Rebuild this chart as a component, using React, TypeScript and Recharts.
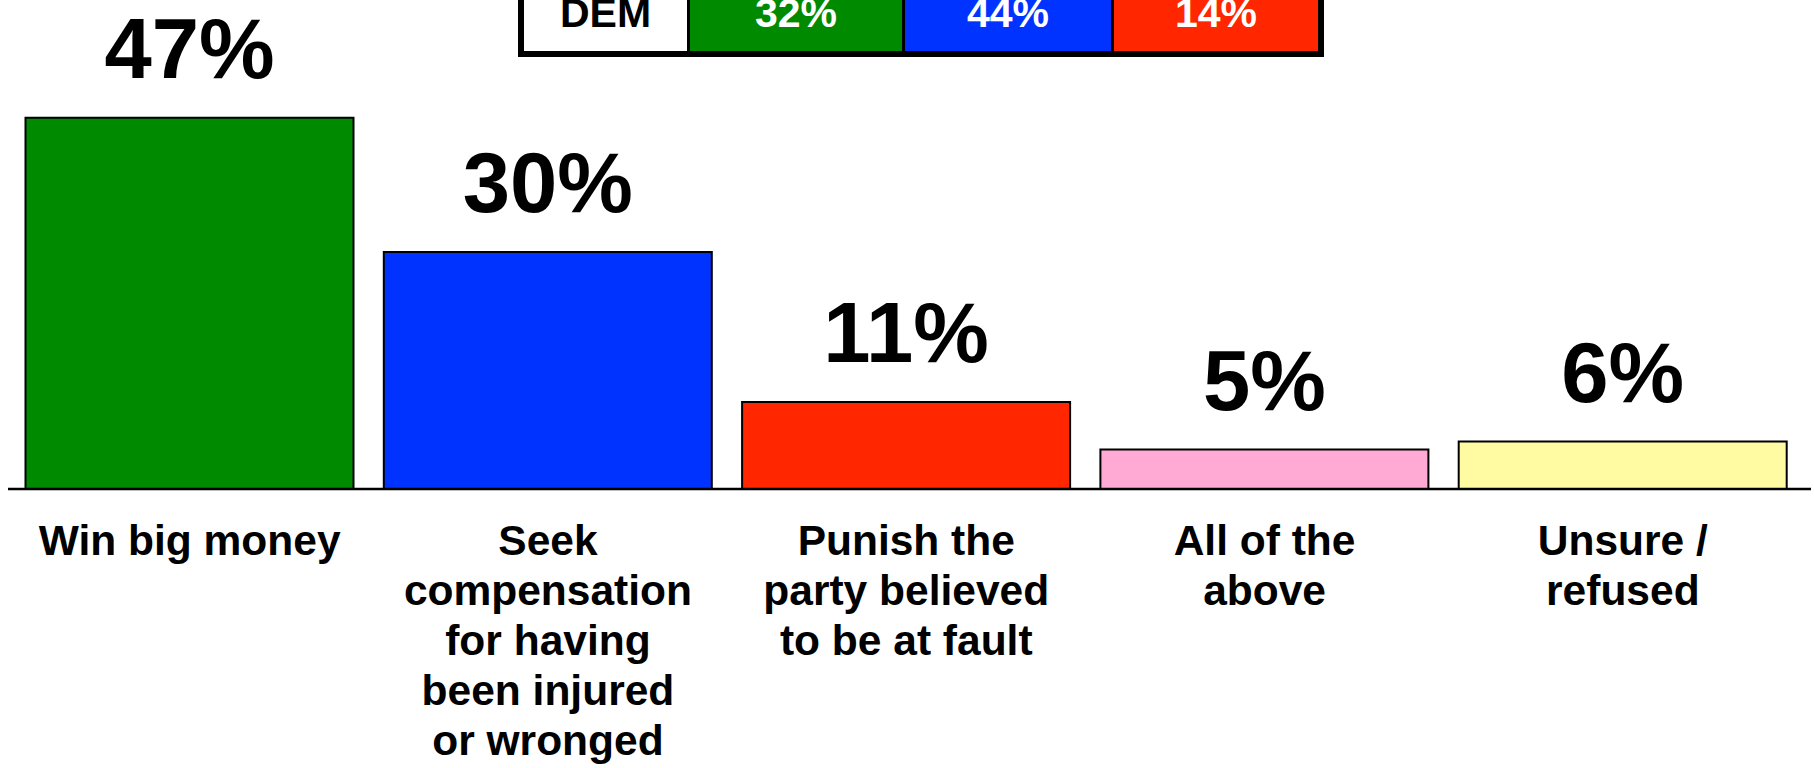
import { Bar, BarChart, Cell, LabelList, XAxis, YAxis } from "recharts";

const categories = [
  "Win big money",
  "Seek compensation for having been injured or wronged",
  "Punish the party believed to be at fault",
  "All of the above",
  "Unsure / refused",
];
const categoryLines = [
  ["Win big money"],
  ["Seek", "compensation", "for having", "been injured", "or wronged"],
  ["Punish the", "party believed", "to be at fault"],
  ["All of the", "above"],
  ["Unsure /", "refused"],
];
const values = [47, 30, 11, 5, 6];
const barColors = ["#008A00", "#0033FF", "#FF2600", "#FFAAD4", "#FFFBA3"];

const tableHeader = "DEM";
const tableValues = [32, 44, 14];
const tableColors = ["#008A00", "#0033FF", "#FF2600"];

const FONT = "'Liberation Sans', Arial, Helvetica, sans-serif";

const data = categories.map((name, i) => ({ name, value: values[i], idx: i }));

function CategoryTick(props: any) {
  const { x, y, payload } = props;
  const lines = categoryLines[payload.index] ?? [payload.value];
  return (
    <text
      x={x}
      y={y + 66}
      textAnchor="middle"
      fontFamily={FONT}
      fontWeight="bold"
      fontSize={42.5}
      fill="#000"
    >
      {lines.map((line, i) => (
        <tspan key={i} x={x} dy={i === 0 ? 0 : 50}>
          {line}
        </tspan>
      ))}
    </text>
  );
}

function ValueLabel(props: any) {
  const { x, y, width, value } = props;
  return (
    <text
      x={x + width / 2}
      y={y - 40}
      textAnchor="middle"
      fontFamily={FONT}
      fontWeight="bold"
      fontSize={85}
      fill="#000"
    >
      {value}%
    </text>
  );
}

// the DEM row of the table at the top (its upper part is cut off by the frame)
function TopTable() {
  const left = 518;
  const top = -40;
  const bottom = 57;
  const border = 6;
  const divider = 3;
  const cellWidths = [163, 212, 206, 204];
  const labels = [tableHeader, ...tableValues.map((v) => `${v}%`)];
  const fills = ["#FFFFFF", ...tableColors];
  const textColors = ["#000", "#FFF", "#FFF", "#FFF"];
  const innerW =
    cellWidths.reduce((a, b) => a + b, 0) + divider * (cellWidths.length - 1);
  let cx = left + border;
  return (
    <svg
      width={1814}
      height={768}
      style={{ position: "absolute", left: 0, top: 0, pointerEvents: "none" }}
    >
      <rect
        x={left}
        y={top}
        width={innerW + border * 2}
        height={bottom - top}
        fill="#000"
      />
      {cellWidths.map((w, i) => {
        const x0 = cx;
        cx += w + divider;
        return (
          <g key={i}>
            <rect x={x0} y={top + border} width={w} height={bottom - border - (top + border)} fill={fills[i]} />
            <text
              x={x0 + w / 2}
              y={27}
              textAnchor="middle"
              fontFamily={FONT}
              fontWeight="bold"
              fontSize={41}
              fill={textColors[i]}
            >
              {labels[i]}
            </text>
          </g>
        );
      })}
    </svg>
  );
}

export default function App() {
  return (
    <div
      style={{
        position: "absolute",
        left: 0,
        top: 0,
        width: 1814,
        height: 768,
        background: "#fff",
        overflow: "hidden",
      }}
    >
      <BarChart
        width={1814}
        height={768}
        data={data}
        margin={{ top: 15, right: 3, bottom: 0, left: 8 }}
      >
        <YAxis hide domain={[0, 60]} />
        <XAxis
          dataKey="name"
          interval={0}
          height={279}
          tickLine={false}
          tickSize={0}
          tickMargin={0}
          axisLine={{ stroke: "#000", strokeWidth: 2.5 }}
          padding={{ left: 2.5, right: 9 }}
          tick={<CategoryTick />}
        />
        <Bar
          dataKey="value"
          barSize={328}
          stroke="#000"
          strokeWidth={2}
          isAnimationActive={false}
        >
          {data.map((d) => (
            <Cell key={d.idx} fill={barColors[d.idx]} />
          ))}
          <LabelList dataKey="value" content={<ValueLabel />} />
        </Bar>
      </BarChart>
      <TopTable />
    </div>
  );
}
